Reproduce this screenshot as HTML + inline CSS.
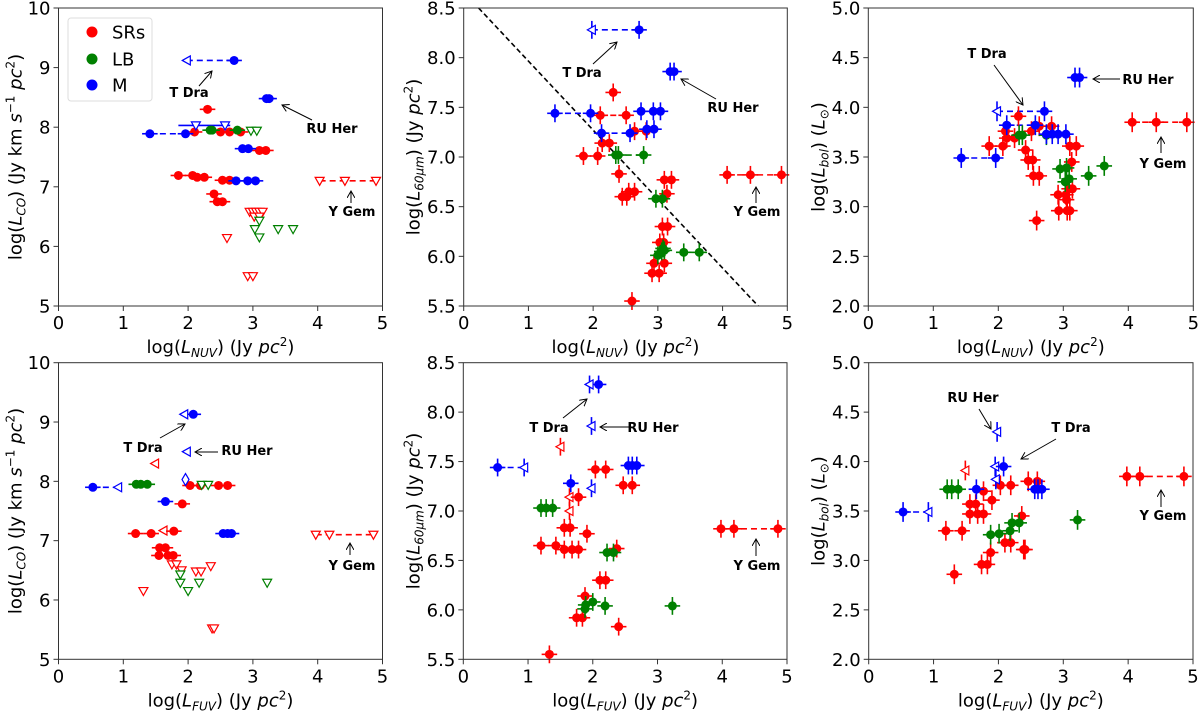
<!DOCTYPE html>
<html><head><meta charset="utf-8">
<style>
html,body{margin:0;padding:0;background:#fff;}
svg{display:block;font-family:"DejaVu Sans","Liberation Sans",sans-serif;}
</style></head>
<body>
<svg id="fig" width="1200" height="712" viewBox="0 0 1200 712" xmlns="http://www.w3.org/2000/svg"></svg>
<script>
// ---- data: [x, y, kind] kind: o filled, v open down-triangle, l open left-triangle, d open diamond
const p1Red=[[2.30,8.30,'o'],[2.10,7.92,'o'],[2.50,7.92,'o'],[2.64,7.92,'o'],[2.81,7.92,'o'],[3.10,7.61,'o'],[3.20,7.61,'o'],[1.85,7.19,'o'],[2.07,7.19,'o'],[2.14,7.16,'o'],[2.25,7.16,'o'],[2.53,7.11,'o'],[2.64,7.11,'o'],[2.40,6.88,'o'],[2.45,6.75,'o'],[2.53,6.75,'o'],[4.03,7.10,'v'],[4.42,7.10,'v'],[4.90,7.10,'v'],[2.95,6.58,'v'],[3.00,6.58,'v'],[3.05,6.58,'v'],[3.10,6.58,'v'],[3.15,6.58,'v'],[3.02,6.50,'v'],[3.10,6.50,'v'],[2.60,6.14,'v'],[2.92,5.50,'v'],[3.00,5.50,'v']];
const p1Green=[[2.34,7.95,'o'],[2.37,7.95,'o'],[2.76,7.95,'o'],[2.97,7.94,'v'],[3.06,7.94,'v'],[3.10,6.43,'v'],[3.03,6.29,'v'],[3.10,6.15,'v'],[3.39,6.29,'v'],[3.62,6.29,'v']];
const p1Blue=[[2.71,9.12,'o'],[1.98,9.12,'l'],[3.21,8.48,'o'],[3.25,8.48,'o'],[2.12,8.03,'v'],[2.57,8.03,'v'],[1.41,7.89,'o'],[1.96,7.89,'o'],[2.84,7.64,'o'],[2.93,7.64,'o'],[2.74,7.10,'o'],[2.92,7.10,'o'],[3.04,7.10,'o']];
const p1Links=[[1.98,2.71,9.12,'b',1],[1.85,2.65,8.03,'b',0],[1.41,1.96,7.89,'b',1],[4.03,4.90,7.10,'r',1]];

const p2Red=[[2.31,7.65,'o'],[2.11,7.42,'o'],[2.51,7.42,'o'],[2.64,7.26,'o'],[2.82,7.26,'o'],[2.14,7.14,'o'],[2.25,7.14,'o'],[1.85,7.01,'o'],[2.07,7.01,'o'],[2.40,6.83,'o'],[2.45,6.60,'o'],[2.52,6.60,'o'],[2.55,6.65,'o'],[2.64,6.65,'o'],[3.10,6.77,'o'],[3.21,6.77,'o'],[3.14,6.63,'o'],[3.07,6.30,'o'],[3.15,6.30,'o'],[3.03,6.14,'o'],[3.09,6.14,'o'],[2.94,5.93,'o'],[3.10,5.93,'o'],[2.91,5.83,'o'],[3.02,5.83,'o'],[2.60,5.55,'o'],[4.07,6.82,'o'],[4.43,6.82,'o'],[4.91,6.82,'o']];
const p2Green=[[2.35,7.02,'o'],[2.39,7.02,'o'],[2.78,7.02,'o'],[2.97,6.58,'o'],[3.07,6.58,'o'],[3.00,6.01,'o'],[3.06,6.05,'o'],[3.08,6.08,'o'],[3.10,6.06,'o'],[3.40,6.04,'o'],[3.64,6.04,'o']];
const p2Blue=[[2.71,8.28,'o'],[1.98,8.28,'l'],[3.19,7.86,'o'],[3.25,7.86,'o'],[1.41,7.44,'o'],[1.96,7.44,'o'],[2.74,7.46,'o'],[2.93,7.46,'o'],[3.04,7.46,'o'],[2.13,7.24,'o'],[2.57,7.24,'o'],[2.83,7.28,'o'],[2.94,7.28,'o']];
const p2Links=[[1.98,2.71,8.28,'b',1],[1.41,1.96,7.44,'b',1],[2.13,2.57,7.24,'b',1],[2.11,2.51,7.42,'r',1],[4.07,4.91,6.82,'r',1],[2.35,2.78,7.02,'g',1]];
const p2Fit=[[0.23,8.5],[4.55,5.5]];

const p3Red=[[2.31,3.91,'o'],[1.86,3.61,'o'],[2.07,3.61,'o'],[2.11,3.76,'o'],[2.13,3.69,'o'],[2.25,3.69,'o'],[2.51,3.76,'o'],[2.63,3.81,'o'],[2.82,3.81,'o'],[2.42,3.57,'o'],[2.46,3.47,'o'],[2.53,3.47,'o'],[2.54,3.31,'o'],[2.63,3.31,'o'],[2.59,2.86,'o'],[2.92,3.12,'o'],[3.04,3.12,'o'],[2.93,2.96,'o'],[3.06,2.96,'o'],[3.10,2.96,'o'],[3.10,3.61,'o'],[3.20,3.61,'o'],[3.13,3.45,'o'],[3.14,3.18,'o'],[3.09,3.18,'o'],[3.05,3.07,'o'],[4.06,3.85,'o'],[4.43,3.85,'o'],[4.90,3.85,'o']];
const p3Green=[[2.32,3.72,'o'],[2.37,3.72,'o'],[2.74,3.72,'o'],[2.95,3.38,'o'],[3.05,3.39,'o'],[3.03,3.25,'o'],[3.09,3.28,'o'],[3.39,3.31,'o'],[3.63,3.41,'o']];
const p3Blue=[[1.43,3.49,'o'],[1.96,3.49,'o'],[1.98,3.96,'l'],[2.71,3.96,'o'],[2.13,3.82,'o'],[2.57,3.82,'o'],[2.74,3.73,'o'],[2.83,3.73,'o'],[2.92,3.73,'o'],[3.04,3.73,'o'],[3.18,4.30,'o'],[3.25,4.30,'o']];
const p3Links=[[1.43,1.96,3.49,'b',1],[1.98,2.71,3.96,'b',1],[2.13,2.57,3.82,'b',1],[4.06,4.90,3.85,'r',1]];

const p4Red=[[1.49,8.30,'l'],[2.03,7.93,'o'],[2.19,7.93,'o'],[2.47,7.93,'o'],[2.61,7.93,'o'],[1.91,7.62,'o'],[1.19,7.12,'o'],[1.43,7.12,'o'],[1.62,7.17,'l'],[1.78,7.16,'o'],[1.56,6.88,'o'],[1.65,6.88,'o'],[1.55,6.75,'o'],[1.69,6.75,'o'],[1.77,6.75,'o'],[1.31,6.15,'v'],[1.75,6.60,'v'],[1.82,6.60,'v'],[1.90,6.50,'v'],[2.12,6.48,'v'],[2.20,6.48,'v'],[2.35,6.57,'v'],[2.37,5.52,'v'],[2.40,5.52,'v'],[3.97,7.10,'v'],[4.18,7.10,'v'],[4.86,7.10,'v']];
const p4Green=[[1.20,7.95,'o'],[1.27,7.95,'o'],[1.37,7.95,'o'],[2.21,7.94,'v'],[2.31,7.94,'v'],[1.88,6.43,'v'],[1.88,6.29,'v'],[2.00,6.15,'v'],[2.17,6.29,'v'],[3.22,6.29,'v']];
const p4Blue=[[2.08,9.13,'o'],[1.94,9.13,'l'],[1.98,8.50,'l'],[1.96,8.03,'d'],[0.53,7.90,'o'],[0.92,7.90,'l'],[1.65,7.66,'o'],[2.54,7.12,'o'],[2.61,7.12,'o'],[2.67,7.12,'o']];
const p4Links=[[0.53,0.92,7.90,'b',1],[3.97,4.86,7.10,'r',1]];

const p5Red=[[1.50,7.65,'l'],[2.04,7.42,'o'],[2.20,7.42,'o'],[2.47,7.26,'o'],[2.61,7.26,'o'],[1.64,7.14,'l'],[1.78,7.14,'o'],[1.64,7.00,'l'],[1.56,6.83,'o'],[1.65,6.83,'o'],[1.91,6.77,'o'],[1.20,6.65,'o'],[1.43,6.65,'o'],[1.56,6.61,'o'],[1.68,6.61,'o'],[1.78,6.61,'o'],[2.37,6.62,'o'],[2.11,6.30,'o'],[2.20,6.30,'o'],[1.88,6.14,'o'],[1.75,5.92,'o'],[1.84,5.92,'o'],[2.40,5.83,'o'],[1.33,5.55,'o'],[3.98,6.82,'o'],[4.18,6.82,'o'],[4.86,6.82,'o']];
const p5Green=[[1.20,7.03,'o'],[1.28,7.03,'o'],[1.38,7.03,'o'],[2.22,6.58,'o'],[2.32,6.58,'o'],[1.88,6.01,'o'],[1.89,6.05,'o'],[2.00,6.08,'o'],[2.19,6.04,'o'],[3.23,6.04,'o']];
const p5Blue=[[2.09,8.28,'o'],[1.95,8.28,'l'],[1.98,7.86,'l'],[0.53,7.44,'o'],[0.94,7.44,'l'],[1.66,7.28,'o'],[1.98,7.23,'l'],[2.55,7.46,'o'],[2.61,7.46,'o'],[2.68,7.46,'o']];
const p5Links=[[0.53,0.94,7.44,'b',1],[3.98,4.86,6.82,'r',1]];

const p6Red=[[1.49,3.91,'l'],[2.03,3.76,'o'],[2.19,3.76,'o'],[2.46,3.80,'o'],[2.60,3.80,'o'],[1.77,3.70,'o'],[1.90,3.61,'o'],[1.56,3.57,'o'],[1.65,3.57,'o'],[1.56,3.47,'o'],[1.68,3.47,'o'],[1.77,3.47,'o'],[1.19,3.30,'o'],[1.44,3.30,'o'],[2.36,3.45,'o'],[2.10,3.18,'o'],[2.19,3.18,'o'],[2.39,3.11,'o'],[2.41,3.11,'o'],[1.88,3.08,'o'],[1.74,2.96,'o'],[1.83,2.96,'o'],[1.32,2.86,'o'],[3.98,3.85,'o'],[4.18,3.85,'o'],[4.86,3.85,'o']];
const p6Green=[[1.21,3.72,'o'],[1.28,3.72,'o'],[1.38,3.72,'o'],[1.88,3.26,'o'],[2.01,3.27,'o'],[2.18,3.30,'o'],[2.21,3.38,'o'],[2.32,3.38,'o'],[3.22,3.41,'o']];
const p6Blue=[[0.53,3.49,'o'],[0.92,3.49,'l'],[1.98,4.30,'l'],[1.95,3.95,'l'],[2.08,3.95,'o'],[1.96,3.82,'l'],[1.66,3.72,'o'],[2.56,3.72,'o'],[2.61,3.72,'o'],[2.67,3.72,'o']];
const p6Links=[[0.53,0.92,3.49,'b',1],[3.98,4.86,3.85,'r',1]];

const xTicks=[0,1,2,3,4,5];
const yTicksCO=[5,6,7,8,9,10];
const yTicks60=[5.5,6.0,6.5,7.0,7.5,8.0,8.5];
const yTicksBol=[2.0,2.5,3.0,3.5,4.0,4.5,5.0];

const NS='http://www.w3.org/2000/svg';
const svg=document.getElementById('fig');
const COL={r:'#ff0000',g:'#008000',b:'#0000ff'};
function el(tag,attrs,parent){const e=document.createElementNS(NS,tag);for(const k in attrs)e.setAttribute(k,attrs[k]);(parent||svg).appendChild(e);return e;}

const panels=[
 {id:'co-vs-nuv',x0:58.5,x1:382.5,y0:8,y1:306,ymin:5,ymax:10,yt:yTicksCO,dec:0,data:[[p1Red,'r'],[p1Green,'g'],[p1Blue,'b']],links:p1Links,yerr:0.04,xl:'NUV',yl:'co',
  ann:[['T Dra',189,97,199,86,212,71],['RU Her',332,133,312,120,282,105],['Y Gem',352,216,351,203,351,191]],legend:true},
 {id:'60um-vs-nuv',x0:463.7,x1:787.3,y0:8,y1:306,ymin:5.5,ymax:8.5,yt:yTicks60,dec:1,data:[[p2Red,'r'],[p2Green,'g'],[p2Blue,'b']],links:p2Links,yerr:0.09,xl:'NUV',yl:'60',fit:p2Fit,
  ann:[['T Dra',582,77,593,64,617,42],['RU Her',733,112,716,99,681,79],['Y Gem',757,216,756,203,756,187]]},
 {id:'bol-vs-nuv',x0:868.3,x1:1193.3,y0:8,y1:306,ymin:2,ymax:5,yt:yTicksBol,dec:1,data:[[p3Red,'r'],[p3Green,'g'],[p3Blue,'b']],links:p3Links,yerr:0.1,xl:'NUV',yl:'bol',
  ann:[['T Dra',987,58,994,65,1023,105],['RU Her',1148,84,1120,79,1093,79],['Y Gem',1163,168,1161,153,1161,137]]},
 {id:'co-vs-fuv',x0:58.5,x1:382.5,y0:362.7,y1:659.3,ymin:5,ymax:10,yt:yTicksCO,dec:0,data:[[p4Red,'r'],[p4Green,'g'],[p4Blue,'b']],links:p4Links,yerr:0.04,xl:'FUV',yl:'co',
  ann:[['T Dra',143,452,160,438,185,424],['RU Her',247,455,218,452,195,452],['Y Gem',352,570,350,555,350,543]]},
 {id:'60um-vs-fuv',x0:463.3,x1:787,y0:362.7,y1:659.3,ymin:5.5,ymax:8.5,yt:yTicks60,dec:1,data:[[p5Red,'r'],[p5Green,'g'],[p5Blue,'b']],links:p5Links,yerr:0.09,xl:'FUV',yl:'60',
  ann:[['T Dra',549,432,563,418,587,399],['RU Her',653,432,631,427,600,427],['Y Gem',757,570,756,556,756,539]]},
 {id:'bol-vs-fuv',x0:868.7,x1:1193,y0:362.7,y1:659.3,ymin:2,ymax:5,yt:yTicksBol,dec:1,data:[[p6Red,'r'],[p6Green,'g'],[p6Blue,'b']],links:p6Links,yerr:0.1,xl:'FUV',yl:'bol',
  ann:[['RU Her',973,402,979,409,991,429],['T Dra',1071,432,1056,439,1021,459],['Y Gem',1163,520,1161,507,1161,490]]}
];

el('defs',{}).innerHTML='<marker id="ah" markerWidth="8" markerHeight="8" refX="7" refY="4" orient="auto" markerUnits="userSpaceOnUse"><path d="M0,0 L7,4 L0,8" fill="none" stroke="#000" stroke-width="1"/></marker>';

function ylabelHTML(t){
 const L='<tspan font-style="italic">L</tspan>';
 const sub=s=>'<tspan font-size="12" dy="4" font-style="italic">'+s+'</tspan><tspan dy="-4">';
 if(t==='co') return 'log('+L+sub('CO')+') (Jy km '+'<tspan font-style="italic">s</tspan><tspan font-size="12" dy="-7">−1</tspan><tspan dy="7"> </tspan><tspan font-style="italic">pc</tspan><tspan font-size="12" dy="-7">2</tspan><tspan dy="7">)</tspan>'+'</tspan>';
 if(t==='60') return 'log('+L+sub('60μm')+') (Jy <tspan font-style="italic">pc</tspan><tspan font-size="12" dy="-7">2</tspan><tspan dy="7">)</tspan></tspan>';
 return 'log('+L+sub('bol')+') ('+L+'<tspan font-size="12" dy="4">⊙</tspan><tspan dy="-4">)</tspan></tspan>';
}
function xlabelHTML(t){
 return 'log(<tspan font-style="italic">L</tspan><tspan font-size="12" dy="4" font-style="italic">'+t+'</tspan><tspan dy="-4">) (Jy <tspan font-style="italic">pc</tspan><tspan font-size="12" dy="-7">2</tspan><tspan dy="7">)</tspan></tspan>';
}

panels.forEach(P=>{
 const g=el('g',{});
 
 
 const sx=v=>P.x0+(v-0)/5*(P.x1-P.x0);
 const sy=v=>P.y1-(v-P.ymin)/(P.ymax-P.ymin)*(P.y1-P.y0);
 // fit line
 if(P.fit){const f=el('line',{x1:sx(P.fit[0][0]),y1:sy(P.fit[0][1]),x2:sx(P.fit[1][0]),y2:sy(P.fit[1][1]),stroke:'#000','stroke-width':1.6,'stroke-dasharray':'5,3'},g);
  
  }
 // links
 P.links.forEach(L=>{const l=el('line',{x1:sx(L[0]),x2:sx(L[1]),y1:sy(L[2]),y2:sy(L[2]),stroke:COL[L[3]],'stroke-width':1.6},g);
  if(L[4])l.setAttribute('stroke-dasharray','6,4');
  
  });
 // points
 P.data.forEach(([arr,c])=>{
  const col=COL[c];
  arr.forEach(p=>{
   const x=sx(p[0]),y=sy(p[1]);
   if(p[2]==='o'){
    const ex=sx(p[0]+0.12)-x, ey=y-sy(p[1]+P.yerr);
    el('line',{x1:x-ex,x2:x+ex,y1:y,y2:y,stroke:col,'stroke-width':1.6},g);
    if(ey>1)el('line',{x1:x,x2:x,y1:y-ey,y2:y+ey,stroke:col,'stroke-width':1.6},g);
    const m=el('circle',{cx:x,cy:y,r:4.5,fill:col},g);
    
    
   } else {
    let d;
    if(p[2]==='v')d=`M${x-4.5},${y-3.5} L${x+4.5},${y-3.5} L${x},${y+4.5} Z`;
    else if(p[2]==='l')d=`M${x-4.5},${y} L${x+3.5},${y-4.5} L${x+3.5},${y+4.5} Z`;
    else d=`M${x},${y-6} L${x+3.5},${y} L${x},${y+6} L${x-3.5},${y} Z`;
    if(P.yerr>0.05&&p[2]!=='v')el('line',{x1:x,x2:x,y1:y-(y-sy(p[1]+P.yerr)),y2:y+(y-sy(p[1]+P.yerr)),stroke:col,'stroke-width':1.6},g);
    const m=el('path',{d:d,fill:'#fff',stroke:col,'stroke-width':1.2},g);
    
    
   }
  });
 });
 // frame
 const fr=el('rect',{x:P.x0,y:P.y0,width:P.x1-P.x0,height:P.y1-P.y0,fill:'none',stroke:'#333','stroke-width':1},g);
 
 
 xTicks.forEach(t=>{const x=sx(t);
  el('line',{x1:x,x2:x,y1:P.y1,y2:P.y1+5,stroke:'#333'},g);
  const tx=el('text',{x:x,y:P.y1+23,'text-anchor':'middle','font-size':18,fill:'#000'},g);tx.textContent=t;
  
  });
 P.yt.forEach(t=>{const y=sy(t);
  el('line',{x1:P.x0-5,x2:P.x0,y1:y,y2:y,stroke:'#333'},g);
  const tx=el('text',{x:P.x0-8,y:y+6.5,'text-anchor':'end','font-size':18,fill:'#000'},g);tx.textContent=t.toFixed(P.dec);
  
  });
 const xl=el('text',{x:(P.x0+P.x1)/2,y:P.y1+47,'text-anchor':'middle','font-size':18,fill:'#000'},g);
 xl.innerHTML=xlabelHTML(P.xl);
 
 
 const cy=(P.y0+P.y1)/2, lx=P.x0-(P.yl==='co'?37:44);
 const yl=el('text',{x:0,y:0,'text-anchor':'middle','font-size':18,fill:'#000',transform:`translate(${lx},${cy}) rotate(-90)`},g);
 yl.innerHTML=ylabelHTML(P.yl);
 
 
 P.ann.forEach(a=>{
  const t=el('text',{x:a[1],y:a[2],'text-anchor':'middle','font-size':13,'font-weight':'bold',fill:'#000'},g);t.textContent=a[0];
  
  
  const ar=el('line',{x1:a[3],y1:a[4],x2:a[5],y2:a[6],stroke:'#000','stroke-width':1,'marker-end':'url(#ah)'},g);
  
  
 });
 if(P.legend){
  const lg=el('g',{},g);
  
  
  el('rect',{x:68,y:18,width:84,height:83,rx:3,fill:'#fff',stroke:'#ddd'},lg);
  [['SRs','r',32],['LB','g',59],['M','b',85]].forEach(e=>{
   const eg=el('g',{},lg);
   
   
   el('circle',{cx:92,cy:e[2],r:5.5,fill:COL[e[1]]},eg);
   const t=el('text',{x:112,y:e[2]+6.5,'font-size':18,fill:'#000'},eg);t.textContent=e[0];
  });
 }
});
</script>
</body></html>
